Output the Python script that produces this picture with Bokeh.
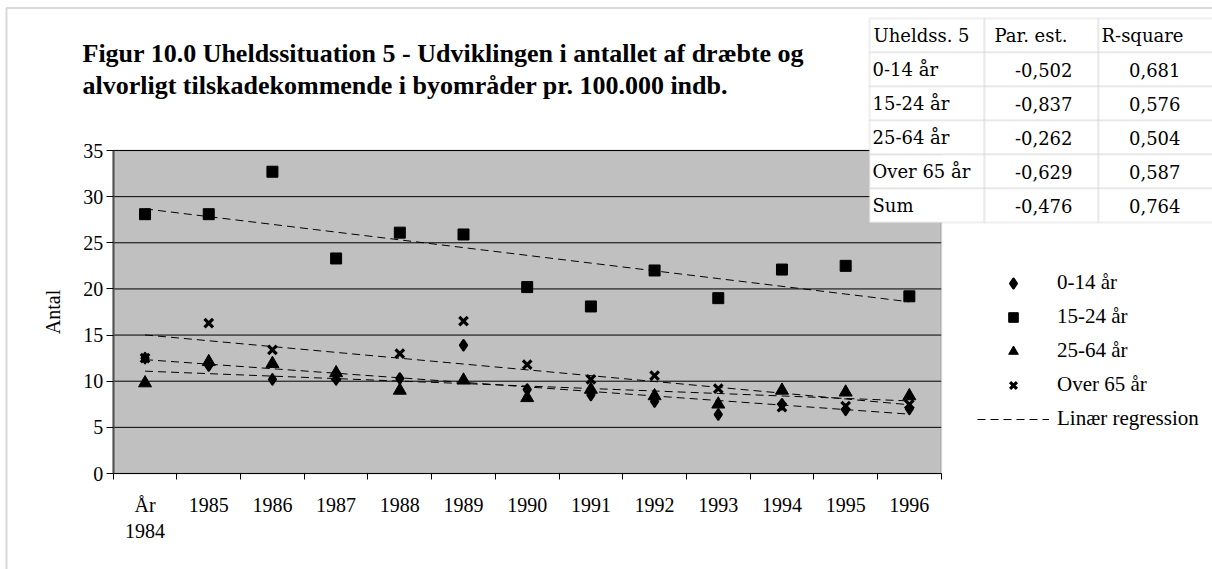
import math
import numpy as np
from bokeh.plotting import figure
from bokeh.models import (Range1d, FixedTicker, Label, BoxAnnotation, Legend,
                          LegendItem, LinearAxis)
from bokeh.embed import file_html
from bokeh.resources import INLINE

# ---------------- data ----------------
categories = ["År\n1984", "1985", "1986", "1987", "1988", "1989", "1990",
              "1991", "1992", "1993", "1994", "1995", "1996"]
age_0_14 = [12.5, 11.7, 10.2, 10.2, 10.3, 13.9, 9.1, 8.5, 7.8, 6.4, 7.5, 6.9, 7.0]
age_15_24 = [28.1, 28.1, 32.7, 23.3, 26.1, 25.9, 20.2, 18.1, 22.0, 19.0, 22.1, 22.5, 19.2]
age_25_64 = [9.8, 12.1, 11.9, 10.9, 9.0, 10.1, 8.2, 9.1, 8.4, 7.5, 9.0, 8.8, 8.4]
age_65_plus = [12.5, 16.3, 13.4, 10.5, 13.0, 16.5, 11.8, 10.2, 10.6, 9.2, 7.2, 7.3, 7.5]
series_names = ["0-14 år", "15-24 år", "25-64 år", "Over 65 år"]
regression_label = "Linær regression"
y_ticks = [0, 5, 10, 15, 20, 25, 30, 35]
y_max = 35

table_header = ["Uheldss. 5", "Par. est.", "R-square"]
table_rows = ["0-14 år", "15-24 år", "25-64 år", "Over 65 år", "Sum"]
par_est = ["-0,502", "-0,837", "-0,262", "-0,629", "-0,476"]
r_square = ["0,681", "0,576", "0,504", "0,587", "0,764"]

title_lines = ["Figur 10.0 Uheldssituation 5 - Udviklingen i antallet af dræbte og",
               "alvorligt tilskadekommende i byområder pr. 100.000 indb."]
y_label = "Antal"

# ---------------- layout (pixels) ----------------
W, H = 1212, 569
PL, PR, PT, PB = 112.7, 940.7, 150.0, 473.0   # plot area in page pixels
n = len(categories)
ppc = (PR - PL) / n            # pixels per category
ppu = (PB - PT) / y_max        # pixels per unit
x_lo, x_hi = -0.5, n - 0.5


def sy(Y):   # page pixel row -> screen units (from bottom)
    return H - Y


serif = "Liberation Serif"
xs = list(range(n))

p = figure(width=W, height=H, output_backend="svg", toolbar_location=None,
           x_range=Range1d(x_lo - PL / ppc, x_lo + (W - PL) / ppc),
           y_range=Range1d(-(H - PB) / ppu, y_max + PT / ppu),
           x_axis_location=None, y_axis_location=None, min_border=0)
p.title.visible = False
p.outline_line_color = None
p.background_fill_color = "white"
p.border_fill_color = "white"
p.xgrid.visible = False
p.ygrid.visible = False

# plot area background and border
p.add_layout(BoxAnnotation(left=x_lo, right=x_hi, bottom=0, top=y_max,
                           fill_color="#c0c0c0", fill_alpha=1,
                           line_color="#808080", line_width=2, level="image"))

# horizontal gridlines
p.segment(x0=[x_lo] * len(y_ticks), x1=[x_hi] * len(y_ticks), y0=y_ticks, y1=y_ticks,
          line_color="black", line_width=1)

# axes at fixed data locations
xaxis = LinearAxis(fixed_location=0, bounds=(x_lo, x_hi),
                   ticker=FixedTicker(ticks=xs, minor_ticks=[i - 0.5 for i in range(n + 1)]),
                   major_label_overrides={i: c for i, c in enumerate(categories)})
xaxis.major_tick_out = 0
xaxis.major_tick_in = 0
xaxis.minor_tick_out = 6
xaxis.minor_tick_in = 0
xaxis.minor_tick_line_color = "black"
xaxis.axis_line_color = "black"
xaxis.major_label_standoff = 14
xaxis.major_label_text_font = serif
xaxis.major_label_text_font_size = "20px"
xaxis.major_label_text_color = "black"
p.add_layout(xaxis, "below")

yaxis = LinearAxis(fixed_location=x_lo, bounds=(0, y_max),
                   ticker=FixedTicker(ticks=y_ticks))
yaxis.minor_tick_line_color = None
yaxis.major_tick_out = 7
yaxis.major_tick_in = 0
yaxis.major_tick_line_color = "black"
yaxis.axis_line_color = "#505050"
yaxis.axis_line_width = 2
yaxis.major_label_standoff = 3
yaxis.major_label_text_font = serif
yaxis.major_label_text_font_size = "20px"
yaxis.major_label_text_color = "black"
p.add_layout(yaxis, "left")

p.add_layout(Label(x=52, y=sy((PT + PB) / 2), x_units="screen", y_units="screen",
                   text=y_label, angle=math.pi / 2, text_align="center",
                   text_baseline="middle", text_font=serif, text_font_size="20px",
                   text_color="black"))

# regression lines (least squares on each series)
series = [age_0_14, age_15_24, age_25_64, age_65_plus]
reg = []
for vals in series:
    slope, icpt = np.polyfit(xs, vals, 1)
    fit = [icpt + slope * xi for xi in xs]
    reg.append(p.line(xs, fit, line_color="black", line_width=1, line_dash="8 5"))

# points
r0 = p.scatter(xs, age_0_14, marker="diamond", size=10, fill_color="black",
               line_color="black", line_width=2.5, line_join="round")
r1 = p.scatter(xs, age_15_24, marker="square", size=11, color="black")
r2 = p.scatter(xs, age_25_64, marker="triangle", size=13, color="black")
r3 = p.scatter(xs, age_65_plus, marker="x", size=12, line_color="black", line_width=3.2)

legend = Legend(items=[LegendItem(label=series_names[0], renderers=[r0]),
                       LegendItem(label=series_names[1], renderers=[r1]),
                       LegendItem(label=series_names[2], renderers=[r2]),
                       LegendItem(label=series_names[3], renderers=[r3]),
                       LegendItem(label=regression_label, renderers=[reg[0]])],
                location=(977, sy(431)), glyph_width=72, glyph_height=24,
                label_height=24, spacing=9, padding=0, margin=0,
                label_standoff=8, border_line_color=None,
                background_fill_alpha=0, label_text_font=serif,
                label_text_font_size="21px", label_text_color="black")
p.add_layout(legend)

# outer border of the chart object
p.add_layout(BoxAnnotation(left=6, right=W + 50, top=sy(7.5), bottom=-50,
                           left_units="screen", right_units="screen",
                           top_units="screen", bottom_units="screen",
                           fill_alpha=0, line_color="#808080", line_width=2))

# titles
for txt, base in zip(title_lines, [53, 85]):
    p.add_layout(Label(x=82, y=sy(base), x_units="screen", y_units="screen",
                       text=txt, text_font=serif, text_font_size="26px",
                       text_font_style="bold", text_color="black",
                       text_baseline="alphabetic"))

# table
col_edges = [869, 984, 1098, 1214]
row_edges = [18, 52, 86, 120, 154, 188, 222]
for r in range(len(row_edges) - 1):
    for c in range(len(col_edges) - 1):
        p.add_layout(BoxAnnotation(left=col_edges[c], right=col_edges[c + 1],
                                   top=sy(row_edges[r]), bottom=sy(row_edges[r + 1]),
                                   left_units="screen", right_units="screen",
                                   top_units="screen", bottom_units="screen",
                                   fill_color="white", fill_alpha=1,
                                   line_color="#c8c8c8", line_width=2))

tfont = "DejaVu Serif"


def cell_label(text, X, r, align):
    Yc = (row_edges[r] + row_edges[r + 1]) / 2
    p.add_layout(Label(x=X, y=sy(Yc), x_units="screen", y_units="screen",
                       text=text, text_font=tfont, text_font_size="18px",
                       text_color="black", text_align=align,
                       text_baseline="middle"))


cell_label(table_header[0], 873, 0, "left")
cell_label(table_header[1], 994, 0, "left")
cell_label(table_header[2], 1101, 0, "left")
for i in range(len(table_rows)):
    cell_label(table_rows[i], 872, i + 1, "left")
    cell_label(par_est[i], 1072, i + 1, "right")
    cell_label(r_square[i], 1180, i + 1, "right")

open("out.html", "w").write(file_html(p, INLINE))
